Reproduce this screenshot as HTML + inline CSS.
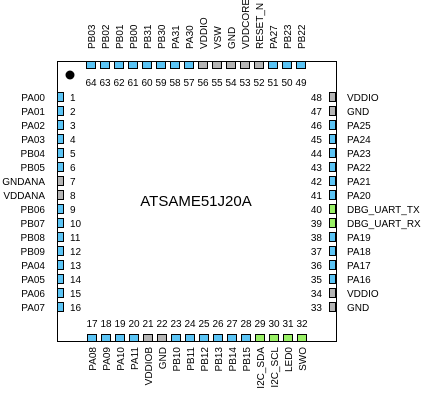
<!DOCTYPE html>
<html><head><meta charset="utf-8"><style>
body{margin:0;background:#fff;}
svg text{font-family:"Liberation Sans",sans-serif;font-size:10px;fill:#000;}
</style></head><body>
<svg id="s" width="425" height="401" viewBox="0 0 425 401">
<rect x="57.5" y="61.5" width="279" height="280" fill="#fff" stroke="#000"/>
<circle cx="70" cy="75" r="4.5" fill="#000"/>
<text x="196" y="206" text-anchor="middle" style="font-size:15px">ATSAME51J20A</text>
</svg>
<script>
const leftNames=["PA00","PA01","PA02","PA03","PB04","PB05","GNDANA","VDDANA","PB06","PB07","PB08","PB09","PA04","PA05","PA06","PA07"];
const bottomNames=["PA08","PA09","PA10","PA11","VDDIOB","GND","PB10","PB11","PB12","PB13","PB14","PB15","I2C_SDA","I2C_SCL","LED0","SWO"];
const rightNames=["GND","VDDIO","PA16","PA17","PA18","PA19","DBG_UART_RX","DBG_UART_TX","PA20","PA21","PA22","PA23","PA24","PA25","GND","VDDIO"];
const topNames=["PB22","PB23","PA27","RESET_N","VDDCORE","GND","VSW","VDDIO","PA30","PA31","PB30","PB31","PB00","PB01","PB02","PB03"];
const gray=[7,8,21,22,33,34,47,48,52,53,54,55,56];
const green=[29,30,31,32,39,40];
const s=document.getElementById('s');
const NS='http://www.w3.org/2000/svg';
function col(n){return gray.includes(n)?'#b4b4b4':green.includes(n)?'#99f066':'#5bc4f5';}
function el(t,a,txt){const e=document.createElementNS(NS,t);for(const k in a)e.setAttribute(k,a[k]);if(txt!=null)e.textContent=txt;s.appendChild(e);return e;}
for(let i=0;i<16;i++){
 let n=i+1,y=92+i*14;
 let r=el('rect',{x:57.5,y:y+0.5,width:6,height:9,fill:col(n),stroke:'#000'});
 
 
 let t=el('text',{x:45,y:y+9,'text-anchor':'end'},leftNames[i]);
 
 
 t=el('text',{x:70,y:y+9},String(n));
 
 
 n=17+i;let x=87+i*14;
 r=el('rect',{x:x+0.5,y:334.5,width:9,height:7,fill:col(n),stroke:'#000'});
 
 
 t=el('text',{x:x+5,y:327,'text-anchor':'middle'},String(n));
 
 
 t=el('text',{x:0,y:0,'text-anchor':'end',transform:`translate(${x+9},347) rotate(-90)`},bottomNames[i]);
 
 
 n=33+i;y=302-i*14;
 r=el('rect',{x:329.5,y:y+0.5,width:6,height:9,fill:col(n),stroke:'#000'});
 
 
 t=el('text',{x:322,y:y+9,'text-anchor':'end'},String(n));
 
 
 t=el('text',{x:347,y:y+9},rightNames[i]);
 
 
 n=49+i;x=296-i*14;
 r=el('rect',{x:x+0.5,y:61.5,width:9,height:7,fill:col(n),stroke:'#000'});
 
 
 t=el('text',{x:x+5,y:86,'text-anchor':'middle'},String(n));
 
 
 t=el('text',{x:0,y:0,'text-anchor':'start',transform:`translate(${x+9},49) rotate(-90)`},topNames[i]);
 
 
}
</script>
</body></html>
